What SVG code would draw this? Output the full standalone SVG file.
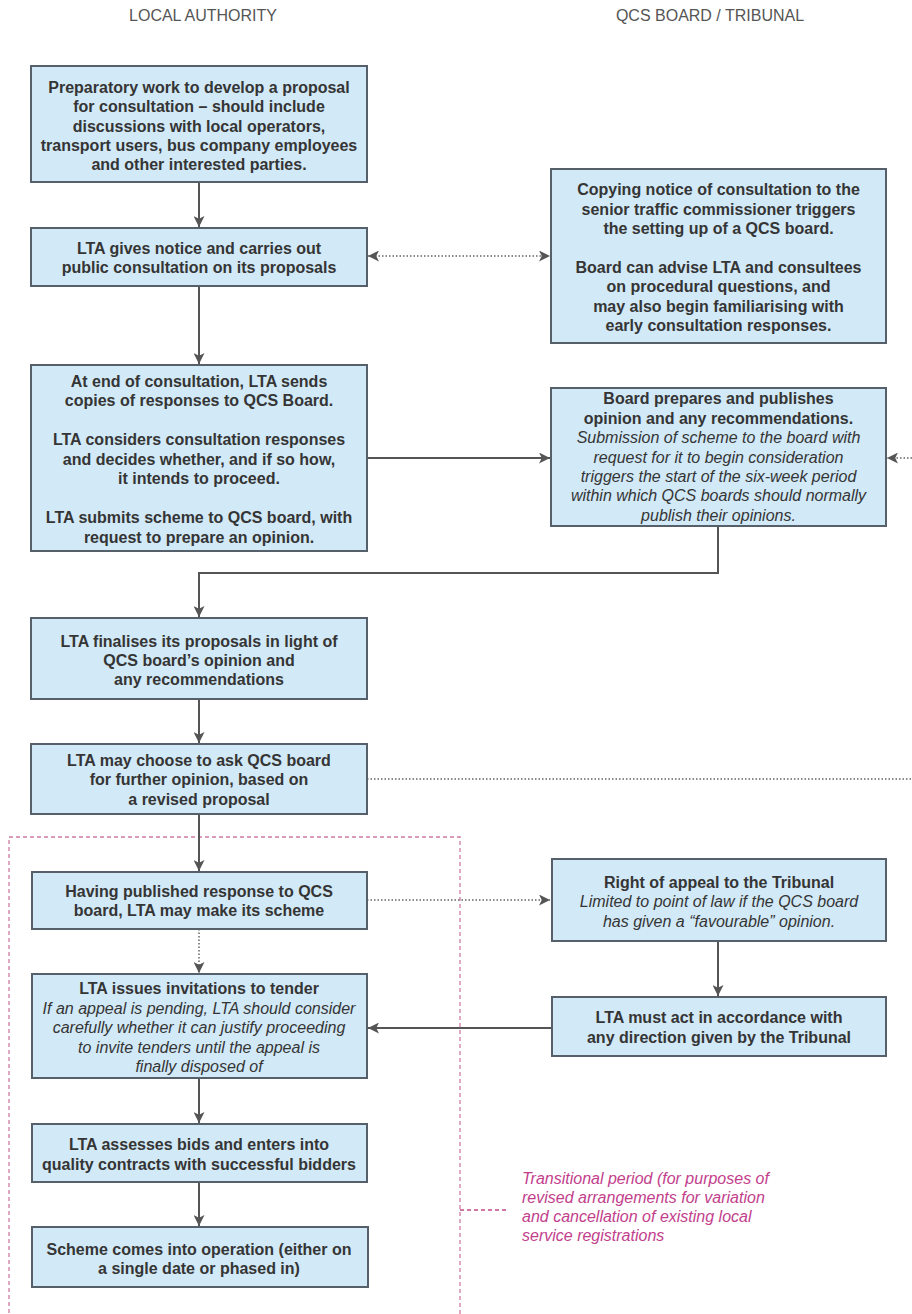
<svg xmlns="http://www.w3.org/2000/svg" width="912" height="1314" viewBox="0 0 912 1314">
<defs>
<style>
.box{fill:#d2e9f7;stroke:#56606a;stroke-width:2}
.t{font-family:"Liberation Sans",Arial,sans-serif;font-size:16px;fill:#353535;text-anchor:middle}
.b{font-weight:bold}
.i{font-style:italic}
.hdr{font-family:"Liberation Sans",Arial,sans-serif;font-size:16px;fill:#555;text-anchor:middle}
.pink{font-family:"Liberation Sans",Arial,sans-serif;font-size:16px;fill:#c2408c;font-style:italic}
.solid{fill:none;stroke:#555;stroke-width:2}
.dot{fill:none;stroke:#8a8a8a;stroke-width:2;stroke-dasharray:1.5 2}
.pdash{fill:none;stroke:#d07aa2;stroke-width:1.3;stroke-dasharray:4 3}
</style>
<marker id="arr" markerUnits="userSpaceOnUse" markerWidth="11" markerHeight="11" refX="10" refY="5" orient="auto-start-reverse" viewBox="0 0 10 10">
<path d="M0,0 L10,5 L0,10 L2.5,5 z" fill="#555"/>
</marker>
</defs>
<rect width="912" height="1314" fill="#ffffff"/>

<text class="hdr" x="203" y="21">LOCAL AUTHORITY</text>
<text class="hdr" x="710" y="21">QCS BOARD / TRIBUNAL</text>

<g id="transitional">
<path class="pdash" d="M9,1320 L9,837 L460,837 L460,1320"/>
<line x1="460" y1="1210" x2="507" y2="1210" stroke="#c04a86" stroke-width="1.3" stroke-dasharray="4 3"/>
<text class="pink" x="522"><tspan x="522" y="1184">Transitional period (for purposes of</tspan><tspan x="522" y="1203">revised arrangements for variation</tspan><tspan x="522" y="1222">and cancellation of existing local</tspan><tspan x="522" y="1241">service registrations</tspan></text>
</g>

<g id="connectors">
<line class="solid" x1="199" y1="182" x2="199" y2="227" marker-end="url(#arr)"/>
<line class="dot" x1="368" y1="256" x2="550" y2="256" marker-start="url(#arr)" marker-end="url(#arr)"/>
<line class="solid" x1="199" y1="286" x2="199" y2="364" marker-end="url(#arr)"/>
<line class="solid" x1="367" y1="458" x2="550" y2="458" marker-end="url(#arr)"/>
<line class="dot" x1="912" y1="458" x2="887" y2="458" marker-end="url(#arr)"/>
<polyline class="solid" points="718,526 718,573 199,573 199,617" marker-end="url(#arr)"/>
<line class="solid" x1="199" y1="699" x2="199" y2="743" marker-end="url(#arr)"/>
<line class="dot" x1="367" y1="779" x2="912" y2="779"/>
<line class="solid" x1="199" y1="814" x2="199" y2="871" marker-end="url(#arr)"/>
<line class="dot" x1="367" y1="900" x2="550" y2="900" marker-end="url(#arr)"/>
<line class="dot" x1="199" y1="929" x2="199" y2="973" marker-end="url(#arr)"/>
<line class="solid" x1="718" y1="941" x2="718" y2="996" marker-end="url(#arr)"/>
<line class="solid" x1="551" y1="1028" x2="368" y2="1028" marker-end="url(#arr)"/>
<line class="solid" x1="199" y1="1078" x2="199" y2="1123" marker-end="url(#arr)"/>
<line class="solid" x1="199" y1="1182" x2="199" y2="1226" marker-end="url(#arr)"/>
</g>

<g id="n1">
<rect class="box" x="31" y="66" width="336" height="116"/>
<text class="t b"><tspan x="199" y="93">Preparatory work to develop a proposal</tspan><tspan x="199" y="112">for consultation – should include</tspan><tspan x="199" y="132">discussions  with local operators,</tspan><tspan x="199" y="151">transport users, bus company employees</tspan><tspan x="199" y="170">and other interested parties.</tspan></text>
</g>

<g id="n2">
<rect class="box" x="31" y="228" width="336" height="58"/>
<text class="t b"><tspan x="199" y="254">LTA gives notice and carries out</tspan><tspan x="199" y="273">public consultation on its proposals</tspan></text>
</g>

<g id="r1">
<rect class="box" x="551" y="169" width="335" height="174"/>
<text class="t b"><tspan x="718.5" y="195">Copying notice of consultation to the</tspan><tspan x="718.5" y="215">senior traffic commissioner triggers</tspan><tspan x="718.5" y="234">the setting up of a QCS board.</tspan><tspan x="718.5" y="273">Board can advise LTA and consultees</tspan><tspan x="718.5" y="292">on procedural questions, and</tspan><tspan x="718.5" y="312">may also begin familiarising with</tspan><tspan x="718.5" y="331">early consultation responses.</tspan></text>
</g>

<g id="n3">
<rect class="box" x="31" y="365" width="336" height="186"/>
<text class="t b"><tspan x="199" y="387">At end of consultation, LTA sends</tspan><tspan x="199" y="406">copies of responses to QCS Board.</tspan><tspan x="199" y="445">LTA considers consultation responses</tspan><tspan x="199" y="465">and decides whether, and if so how,</tspan><tspan x="199" y="484">it intends to proceed.</tspan><tspan x="199" y="523">LTA submits scheme to QCS board, with</tspan><tspan x="199" y="543">request to prepare an opinion.</tspan></text>
</g>

<g id="r2">
<rect class="box" x="551" y="388" width="335" height="138"/>
<text class="t"><tspan class="b" x="718.5" y="404">Board prepares and publishes</tspan><tspan class="b" x="718.5" y="423.5">opinion and any recommendations.</tspan><tspan class="i" x="718.5" y="443">Submission of scheme to the board with</tspan><tspan class="i" x="718.5" y="462.5">request for it to begin consideration</tspan><tspan class="i" x="718.5" y="482">triggers the start of the six-week period</tspan><tspan class="i" x="718.5" y="501">within which QCS boards should normally</tspan><tspan class="i" x="718.5" y="520.5">publish their opinions.</tspan></text>
</g>

<g id="n4">
<rect class="box" x="31" y="618" width="336" height="81"/>
<text class="t b"><tspan x="199" y="647">LTA finalises its proposals in light of</tspan><tspan x="199" y="666">QCS board’s opinion and</tspan><tspan x="199" y="685">any recommendations</tspan></text>
</g>

<g id="n5">
<rect class="box" x="31" y="744" width="336" height="70"/>
<text class="t b"><tspan x="199" y="766">LTA may choose to ask QCS board</tspan><tspan x="199" y="785">for further opinion, based on</tspan><tspan x="199" y="805">a revised proposal</tspan></text>
</g>

<g id="n6">
<rect class="box" x="32" y="872" width="335" height="57"/>
<text class="t b"><tspan x="199" y="897">Having published response to QCS</tspan><tspan x="199" y="916">board, LTA may make its scheme</tspan></text>
</g>

<g id="r3">
<rect class="box" x="552" y="859" width="334" height="82"/>
<text class="t"><tspan class="b" x="719" y="888">Right of appeal to the Tribunal</tspan><tspan class="i" x="719" y="907">Limited to point of law if the QCS board</tspan><tspan class="i" x="719" y="927">has given a “favourable” opinion.</tspan></text>
</g>

<g id="n7">
<rect class="box" x="32" y="974" width="335" height="104"/>
<text class="t"><tspan class="b" x="199" y="994">LTA issues invitations to tender</tspan><tspan class="i" x="199" y="1014">If an appeal is pending, LTA should consider</tspan><tspan class="i" x="199" y="1033">carefully whether it can justify proceeding</tspan><tspan class="i" x="199" y="1053">to invite tenders until the appeal is</tspan><tspan class="i" x="199" y="1072">finally disposed of</tspan></text>
</g>

<g id="r4">
<rect class="box" x="552" y="997" width="334" height="59"/>
<text class="t b"><tspan x="719" y="1023">LTA must act in accordance with</tspan><tspan x="719" y="1043">any direction given by the Tribunal</tspan></text>
</g>

<g id="n8">
<rect class="box" x="32" y="1124" width="335" height="58"/>
<text class="t b"><tspan x="199" y="1150">LTA assesses bids and enters into</tspan><tspan x="199" y="1170">quality contracts with successful bidders</tspan></text>
</g>

<g id="n9">
<rect class="box" x="32" y="1227" width="336" height="60"/>
<text class="t b"><tspan x="199" y="1255">Scheme comes into operation (either on</tspan><tspan x="199" y="1274">a single date or phased in)</tspan></text>
</g>
</svg>
